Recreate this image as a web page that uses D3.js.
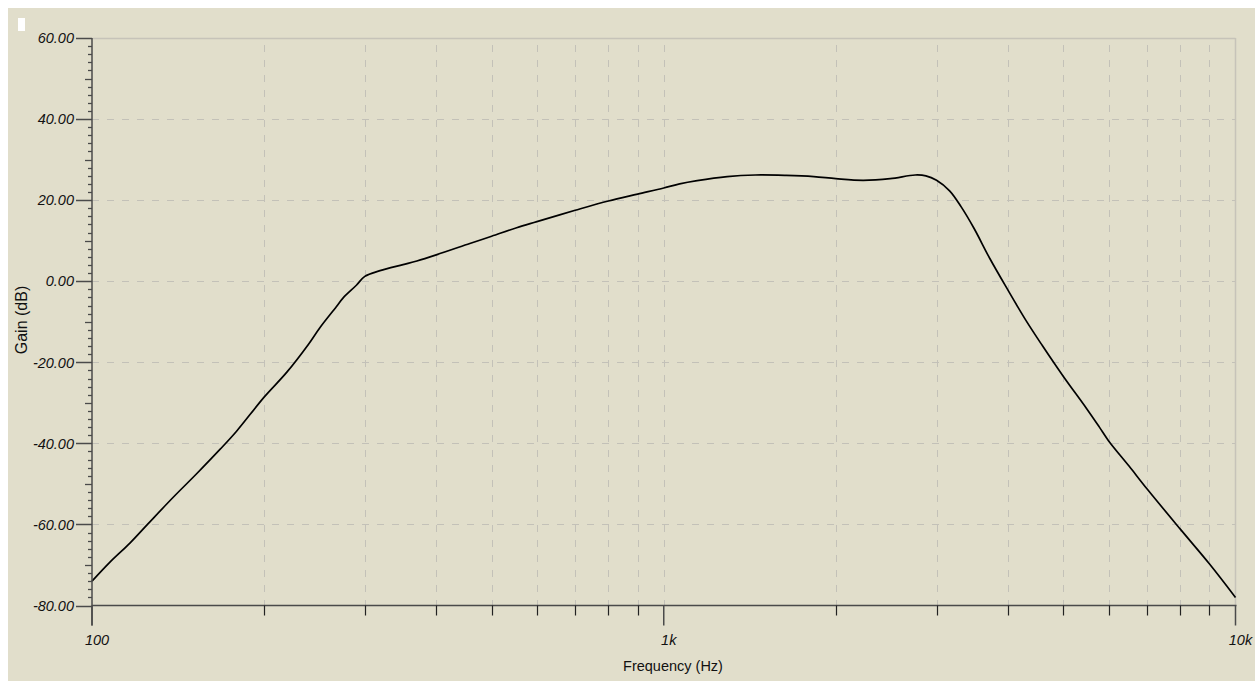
<!DOCTYPE html>
<html>
<head>
<meta charset="utf-8">
<script src="https://cdn.jsdelivr.net/npm/d3@7"></script>
<style>
  html, body { margin: 0; padding: 0; background: #ffffff; }
  svg { display: block; }
  text { font-family: "Liberation Sans", Arial, sans-serif; fill: #111111; }
</style>
</head>
<body>
<svg id="chart" width="1255" height="681"></svg>
<script>
// ---- data ----
const freqHz = [100, 107.5, 116.5, 125.4, 138.7, 152.4, 167.4, 179, 200, 219, 239, 250, 267.5, 275, 290, 300, 319, 350, 370, 400, 458, 500, 553, 600, 700, 800, 900, 1000, 1066, 1144, 1291, 1446, 1638, 1830, 2000, 2233, 2489, 2752, 2874, 3000, 3162, 3311, 3490, 3718, 4000, 4297, 4590, 5000, 5488, 5780, 6000, 6513, 7000, 8000, 9000, 10000];
const gainDb = [-74.0, -69.3, -64.6, -59.8, -53.3, -47.5, -41.5, -37.0, -28.6, -22.5, -15.6, -11.6, -6.3, -4.1, -1.0, 1.2, 2.6, 4.1, 5.0, 6.5, 9.3, 11.1, 13.2, 14.7, 17.5, 19.8, 21.5, 23.0, 24.0, 24.8, 25.8, 26.2, 26.1, 25.8, 25.3, 24.9, 25.3, 26.2, 26.0, 24.9, 22.3, 18.4, 13.0, 5.6, -2.2, -9.6, -15.8, -23.5, -31.4, -36.0, -39.4, -45.6, -51.2, -61.1, -69.7, -78.0];
const yMajorTicks = [60, 40, 20, 0, -20, -40, -60, -80];
const yTickLabels = ["60.00", "40.00", "20.00", "0.00", "-20.00", "-40.00", "-60.00", "-80.00"];
const xMajorTicks = [100, 1000, 10000];
const xTickLabels = ["100", "1k", "10k"];
const xMinorTicks = [200, 300, 400, 500, 600, 700, 800, 900, 2000, 3000, 4000, 5000, 6000, 7000, 8000, 9000];
const xLabel = "Frequency (Hz)";
const yLabel = "Gain (dB)";

// ---- layout ----
const svg = d3.select("#chart");
const W = 1255, H = 681;
const L = 92, R = 1235.5, T = 38, B = 605.5;

const x = d3.scaleLog().domain([100, 10000]).range([L, R]);
const y = d3.scaleLinear().domain([-80, 60]).range([B, T]);

svg.append("rect").attr("x", 8).attr("y", 8).attr("width", W - 8).attr("height", H - 8).attr("fill", "#e1decb");
svg.append("rect").attr("x", 18).attr("y", 18).attr("width", 7).attr("height", 13).attr("fill", "#ffffff");

const gridColor = "#c3c1b8";
// horizontal grid
svg.append("g").selectAll("line").data(yMajorTicks.filter(d => d > -80 && d < 60)).join("line")
  .attr("x1", L).attr("x2", R)
  .attr("y1", d => Math.round(y(d)) + 0.5).attr("y2", d => Math.round(y(d)) + 0.5)
  .attr("stroke", gridColor).attr("stroke-width", 1).attr("stroke-dasharray", "7,8");
// vertical grid
svg.append("g").selectAll("line").data(xMinorTicks.concat([1000])).join("line")
  .attr("x1", d => Math.round(x(d)) + 0.5).attr("x2", d => Math.round(x(d)) + 0.5)
  .attr("y1", T + 7).attr("y2", B)
  .attr("stroke", gridColor).attr("stroke-width", 1).attr("stroke-dasharray", "7,8");

// top and right border
svg.append("line").attr("x1", L).attr("x2", R).attr("y1", T + 0.5).attr("y2", T + 0.5).attr("stroke", "#c6c3b9").attr("stroke-width", 1.5);
svg.append("line").attr("x1", R).attr("x2", R).attr("y1", T).attr("y2", B).attr("stroke", "#c6c3b9").attr("stroke-width", 1.5);

// curve
const pts = freqHz.map((f, i) => [f, gainDb[i]]);
const line = d3.line().x(d => x(d[0])).y(d => y(d[1])).curve(d3.curveCatmullRom.alpha(0.5));
svg.append("path").datum(pts).attr("d", line).attr("fill", "none").attr("stroke", "#000").attr("stroke-width", 1.7).attr("stroke-linejoin", "round");

const axisColor = "#4a4a4a";
// y axis
const yAxis = svg.append("g");
yAxis.append("line").attr("x1", L).attr("x2", L).attr("y1", T).attr("y2", B + 20).attr("stroke", axisColor).attr("stroke-width", 1.5);
const yMinor = d3.range(-80, 61, 2);
yAxis.selectAll("line.t").data(yMinor).join("line").attr("class", "t")
  .attr("x1", d => d % 20 === 0 ? L - 16 : (d % 10 === 0 ? L - 7 : L - 4)).attr("x2", L)
  .attr("y1", d => Math.round(y(d)) + 0.5).attr("y2", d => Math.round(y(d)) + 0.5)
  .attr("stroke", axisColor).attr("stroke-width", d => d % 20 === 0 ? 1.5 : 1.3);
yAxis.selectAll("text").data(yMajorTicks).join("text")
  .attr("x", 74).attr("y", d => y(d)).attr("dy", "0.36em")
  .attr("text-anchor", "end").attr("font-style", "italic").attr("font-size", "14.5px")
  .text((d, i) => yTickLabels[i]);

// x axis
const xAxis = svg.append("g");
xAxis.append("line").attr("x1", L).attr("x2", R + 1).attr("y1", B).attr("y2", B).attr("stroke", axisColor).attr("stroke-width", 1.5);
xAxis.selectAll("line.mn").data(xMinorTicks).join("line").attr("class", "mn")
  .attr("x1", d => Math.round(x(d)) + 0.5).attr("x2", d => Math.round(x(d)) + 0.5)
  .attr("y1", B).attr("y2", B + 10).attr("stroke", "#222").attr("stroke-width", 1.2);
xAxis.selectAll("line.mj").data(xMajorTicks).join("line").attr("class", "mj")
  .attr("x1", d => x(d)).attr("x2", d => x(d))
  .attr("y1", B).attr("y2", B + 20).attr("stroke", axisColor).attr("stroke-width", 1.5);
xAxis.selectAll("text").data(xMajorTicks).join("text")
  .attr("x", d => x(d) + 5).attr("y", 645)
  .attr("text-anchor", "middle").attr("font-style", "italic").attr("font-size", "14.5px")
  .text((d, i) => xTickLabels[i]);

// titles
svg.append("text").attr("x", 673).attr("y", 671).attr("text-anchor", "middle").attr("font-size", "14.5px").text(xLabel);
svg.append("text").attr("transform", "translate(27,320) rotate(-90)").attr("text-anchor", "middle").attr("font-size", "16px").text(yLabel);
</script>
</body>
</html>
